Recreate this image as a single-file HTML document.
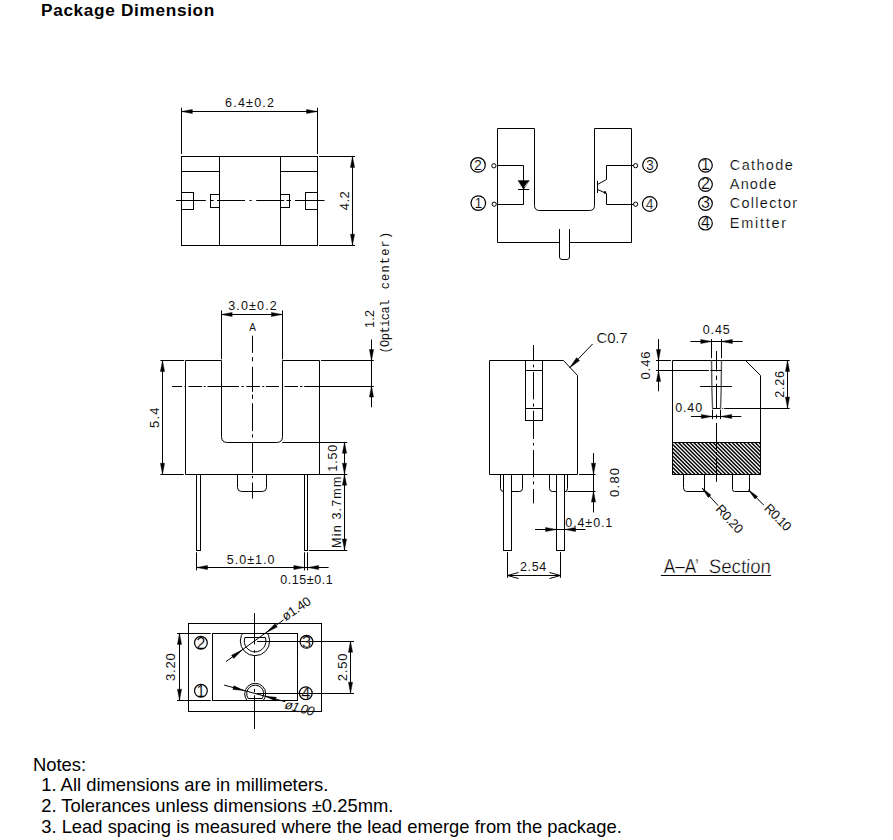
<!DOCTYPE html>
<html><head><meta charset="utf-8"><title>Package Dimension</title>
<style>
html,body{margin:0;padding:0;background:#fff;}
body{width:893px;height:840px;overflow:hidden;position:relative;font-family:"Liberation Sans",sans-serif;color:#000;}
#title{position:absolute;left:41px;top:-0.5px;font-size:17.2px;font-weight:bold;line-height:20px;white-space:nowrap;letter-spacing:0.68px;}
#notes{position:absolute;left:33px;top:754.5px;font-size:18.4px;line-height:20.9px;white-space:pre;}
#notes .i{padding-left:8.2px;}
svg{position:absolute;left:0;top:0;}
svg line,svg path,svg rect,svg circle{fill:none;stroke:#000;stroke-width:1;}
svg .ar{fill:#000;stroke:#000;stroke-width:0.4;}
svg text{font-family:"Liberation Sans",sans-serif;fill:#111;stroke:none;}
svg text.m{font-family:"Liberation Mono",monospace;fill:#111;}
svg text.thin{fill:#111;}
svg text.thin1{fill:#000;stroke:#fff;stroke-width:0.18px;}
svg text.thin2{fill:#000;stroke:#fff;stroke-width:0.4px;}
</style></head><body>
<div id="title">Package Dimension</div>
<svg width="893" height="840" viewBox="0 0 893 840">
<defs>
<clipPath id="ch"><rect x="672.5" y="442.5" width="88" height="32"/></clipPath>
<clipPath id="cu"><rect x="230" y="633.4" width="50" height="40"/></clipPath>
<clipPath id="cl"><rect x="230" y="670" width="50" height="30.2"/></clipPath>
</defs>
<g id="topview">
<rect x="181.5" y="156.5" width="136.0" height="89.0" />
<line x1="219.5" y1="156.4" x2="219.5" y2="245.2" />
<line x1="280.5" y1="156.4" x2="280.5" y2="245.2" />
<line x1="181.4" y1="171.5" x2="219.4" y2="171.5" />
<line x1="280.5" y1="171.5" x2="317.5" y2="171.5" />
<rect x="181.5" y="192.5" width="12.0" height="17.0" />
<rect x="210.5" y="194.5" width="9.0" height="13.0" />
<rect x="280.5" y="194.5" width="9.0" height="13.0" />
<rect x="305.5" y="192.5" width="12.0" height="17.0" />
<line x1="176" y1="200.5" x2="205.8" y2="200.5" />
<line x1="210.3" y1="200.5" x2="213.7" y2="200.5" />
<line x1="217" y1="200.5" x2="245" y2="200.5" />
<line x1="249.5" y1="200.5" x2="251.7" y2="200.5" />
<line x1="256.2" y1="200.5" x2="284.2" y2="200.5" />
<line x1="286.5" y1="200.5" x2="291" y2="200.5" />
<line x1="295" y1="200.5" x2="324.5" y2="200.5" />
<line x1="181.5" y1="107.8" x2="181.5" y2="154" />
<line x1="317.5" y1="107.8" x2="317.5" y2="154" />
<line x1="181.4" y1="111.5" x2="317.5" y2="111.5" />
<polygon points="181.40,111.50 192.40,109.40 192.40,113.60" class="ar" />
<polygon points="317.50,111.50 306.50,113.60 306.50,109.40" class="ar" />
<text x="249.5" y="107" font-size="12.5" text-anchor="middle" class="t" textLength="49" lengthAdjust="spacing" >6.4±0.2</text>
<line x1="319" y1="156.5" x2="355" y2="156.5" />
<line x1="319" y1="245.5" x2="355" y2="245.5" />
<line x1="352.5" y1="156.4" x2="352.5" y2="245.2" />
<polygon points="352.50,156.40 354.60,167.40 350.40,167.40" class="ar" />
<polygon points="352.50,245.20 350.40,234.20 354.60,234.20" class="ar" />
<text x="349" y="200.8" font-size="13" text-anchor="middle" class="t" textLength="19" lengthAdjust="spacing" transform="rotate(-90 349 200.8)" >4.2</text>
</g>
<g id="pin">
<path d="M559.5,242.5 H497.5 V128.5 H534.5 V205.5 Q534.5,210.5 539.5,210.5 H589.5 Q594.5,210.5 594.5,205.5 V128.5 H631.5 V242.5 H569.5" />
<path d="M559.5,229 V257 Q559.5,259.5 562,259.5 H567 Q569.5,259.5 569.5,257 V229" />
<circle cx="493.9" cy="165.8" r="2.1" />
<circle cx="494.2" cy="204.2" r="2.1" />
<path d="M497.5,165.5 H523.5 V204.5 H497.5" />
<polygon points="518,180.6 529.3,180.6 523.6,189.3" class="ar"/>
<line x1="524.6" y1="187" x2="527.6" y2="182.6" style="stroke:#fff;stroke-width:0.7"/>
<line x1="518" y1="189.5" x2="529.1" y2="189.5" />
<circle cx="478" cy="164.9" r="7.3" style="stroke-width:1.2" />
<text x="478" y="169.9" font-size="14" text-anchor="middle" class="t thin1" >2</text>
<circle cx="478.3" cy="203.1" r="7.3" style="stroke-width:1.2" />
<text x="478.3" y="208.1" font-size="14" text-anchor="middle" class="t thin1" >1</text>
<circle cx="635.6" cy="165.7" r="2.1" />
<circle cx="635.6" cy="204.2" r="2.1" />
<path d="M633.5,165.5 H606.5 V179.5 L597.5,184.5" />
<line x1="597.5" y1="180.9" x2="597.5" y2="193" />
<path d="M597.5,189.5 L606.5,193.5 V204.5 H633.5" />
<circle cx="604.9" cy="192.4" r="1.1" class="ar"/>
<circle cx="650" cy="165" r="7.3" style="stroke-width:1.2" />
<text x="650" y="170.0" font-size="14" text-anchor="middle" class="t thin1" >3</text>
<circle cx="649.7" cy="204" r="7.3" style="stroke-width:1.2" />
<text x="649.7" y="209.0" font-size="14" text-anchor="middle" class="t thin1" >4</text>
</g>
<g id="legend">
<circle cx="705.5" cy="165.3" r="6.8" style="stroke-width:1.2" />
<text x="705.5" y="169.9" font-size="16" text-anchor="middle" class="t thin1" >1</text>
<text x="729.8" y="170.2" font-size="14.5" text-anchor="start" class="t thin1" textLength="63" lengthAdjust="spacing" >Cathode</text>
<circle cx="705.5" cy="184.5" r="6.8" style="stroke-width:1.2" />
<text x="705.5" y="189.1" font-size="16" text-anchor="middle" class="t thin1" >2</text>
<text x="729.8" y="189.1" font-size="14.5" text-anchor="start" class="t thin1" textLength="46.6" lengthAdjust="spacing" >Anode</text>
<circle cx="705.5" cy="203.6" r="6.8" style="stroke-width:1.2" />
<text x="705.5" y="208.2" font-size="16" text-anchor="middle" class="t thin1" >3</text>
<text x="729.8" y="208.1" font-size="14.5" text-anchor="start" class="t thin1" textLength="67.3" lengthAdjust="spacing" >Collector</text>
<circle cx="705.5" cy="223.2" r="6.8" style="stroke-width:1.2" />
<text x="705.5" y="227.79999999999998" font-size="16" text-anchor="middle" class="t thin1" >4</text>
<text x="729.8" y="228.3" font-size="14.5" text-anchor="start" class="t thin1" textLength="56.4" lengthAdjust="spacing" >Emitter</text>
</g>
<g id="front">
<path d="M185.5,360.5 H221.5 V436.5 Q221.5,442.5 227.5,442.5 H276.5 Q282.5,442.5 282.5,436.5 V360.5 H319.5 V474.5 H185.5 Z" />
<line x1="282.4" y1="442.5" x2="347.3" y2="442.5" />
<rect x="196.5" y="474.5" width="4.0" height="76.0" />
<rect x="304.5" y="474.5" width="3.0" height="76.0" />
<path d="M237.5,474.5 V487.5 Q237.5,491.5 241.5,491.5 H262.5 Q266.5,491.5 266.5,487.5 V474.5" />
<line x1="252.5" y1="335.7" x2="252.5" y2="352.9" />
<line x1="252.5" y1="357.1" x2="252.5" y2="361.4" />
<line x1="252.5" y1="366.8" x2="252.5" y2="391.9" />
<line x1="252.5" y1="394.6" x2="252.5" y2="398.9" />
<line x1="252.5" y1="403.2" x2="252.5" y2="431.1" />
<line x1="252.5" y1="434.3" x2="252.5" y2="437.5" />
<line x1="252.5" y1="442.4" x2="252.5" y2="472.8" />
<line x1="252.5" y1="476" x2="252.5" y2="478.2" />
<line x1="252.5" y1="482.5" x2="252.5" y2="498.6" />
<line x1="172" y1="386.5" x2="182" y2="386.5" />
<line x1="184.5" y1="386.5" x2="186" y2="386.5" />
<line x1="188.5" y1="386.5" x2="202" y2="386.5" />
<line x1="203.7" y1="386.5" x2="205.7" y2="386.5" />
<line x1="207.5" y1="386.5" x2="239" y2="386.5" />
<line x1="241.4" y1="386.5" x2="243.8" y2="386.5" />
<line x1="246.3" y1="386.5" x2="260" y2="386.5" />
<line x1="262.3" y1="386.5" x2="264.3" y2="386.5" />
<line x1="266" y1="386.5" x2="279" y2="386.5" />
<line x1="284.5" y1="386.5" x2="298" y2="386.5" />
<line x1="300" y1="386.5" x2="302.5" y2="386.5" />
<line x1="304.2" y1="386.5" x2="319.5" y2="386.5" />
<line x1="319.6" y1="386.5" x2="373.8" y2="386.5" />
<line x1="160.4" y1="360.5" x2="184.2" y2="360.5" />
<line x1="160.4" y1="474.5" x2="183.7" y2="474.5" />
<line x1="162.5" y1="360.5" x2="162.5" y2="474.3" />
<polygon points="162.50,360.50 164.60,371.50 160.40,371.50" class="ar" />
<polygon points="162.50,474.30 160.40,463.30 164.60,463.30" class="ar" />
<text x="158.7" y="417.7" font-size="13" text-anchor="middle" class="t" textLength="20.5" lengthAdjust="spacing" transform="rotate(-90 158.7 417.7)" >5.4</text>
<line x1="221.5" y1="310.4" x2="221.5" y2="359.3" />
<line x1="282.5" y1="310.4" x2="282.5" y2="359.3" />
<line x1="221.2" y1="314.5" x2="282.4" y2="314.5" />
<polygon points="221.20,314.50 232.20,312.40 232.20,316.60" class="ar" />
<polygon points="282.40,314.50 271.40,316.60 271.40,312.40" class="ar" />
<text x="252.5" y="310.4" font-size="12.5" text-anchor="middle" class="t" textLength="48.6" lengthAdjust="spacing" >3.0±0.2</text>
<text x="252.7" y="330.8" font-size="10" text-anchor="middle" class="t thin" >A</text>
<line x1="321" y1="360.5" x2="373.8" y2="360.5" />
<line x1="371.5" y1="339.5" x2="371.5" y2="407.3" />
<polygon points="371.50,360.50 369.40,349.50 373.60,349.50" class="ar" />
<polygon points="371.50,386.10 373.60,397.10 369.40,397.10" class="ar" />
<text x="374" y="319.0" font-size="12.5" text-anchor="middle" class="t" textLength="18" lengthAdjust="spacing" transform="rotate(-90 374 319.0)" >1.2</text>
<text x="389.4" y="353.6" font-size="12" text-anchor="start" class="m" textLength="54" lengthAdjust="spacing" transform="rotate(-90 389.4 353.6)" >(Optical</text>
<text x="389.4" y="289.3" font-size="12" text-anchor="start" class="m" textLength="57.5" lengthAdjust="spacing" transform="rotate(-90 389.4 289.3)" >center)</text>
<line x1="319.6" y1="474.5" x2="347.3" y2="474.5" />
<line x1="308.9" y1="550.5" x2="347.3" y2="550.5" />
<line x1="344.5" y1="442.3" x2="344.5" y2="550" />
<polygon points="344.50,442.30 346.60,453.30 342.40,453.30" class="ar" />
<polygon points="344.50,474.30 342.40,463.30 346.60,463.30" class="ar" />
<polygon points="344.50,474.30 346.60,485.30 342.40,485.30" class="ar" />
<polygon points="344.50,550.00 342.40,539.00 346.60,539.00" class="ar" />
<text x="337.4" y="458.2" font-size="12.5" text-anchor="middle" class="t" textLength="27" lengthAdjust="spacing" transform="rotate(-90 337.4 458.2)" >1.50</text>
<text x="341.5" y="547.9" font-size="12.5" text-anchor="start" class="t" textLength="71.3" lengthAdjust="spacing" transform="rotate(-90 341.5 547.9)" >Min 3.7mm</text>
<line x1="196.5" y1="552.3" x2="196.5" y2="570.3" />
<line x1="304.5" y1="552.3" x2="304.5" y2="570.3" />
<line x1="307.5" y1="552.3" x2="307.5" y2="570.3" />
<line x1="196.5" y1="567.5" x2="328.6" y2="567.5" />
<polygon points="196.50,567.50 207.50,565.40 207.50,569.60" class="ar" />
<polygon points="304.80,567.50 293.80,569.60 293.80,565.40" class="ar" />
<polygon points="307.70,567.50 318.70,565.40 318.70,569.60" class="ar" />
<text x="226.8" y="563.9" font-size="12.5" text-anchor="start" class="t" textLength="47.7" lengthAdjust="spacing" >5.0±1.0</text>
<text x="280.3" y="584.3" font-size="12.5" text-anchor="start" class="t" textLength="52.4" lengthAdjust="spacing" >0.15±0.1</text>
</g>
<g id="side">
<path d="M489.5,360.5 H563.5 L577.5,375.5 V474.5 H489.5 Z" />
<rect x="525.5" y="360.5" width="17.0" height="60.0" />
<line x1="525.4" y1="370.5" x2="542.6" y2="370.5" />
<line x1="525.4" y1="408.5" x2="542.6" y2="408.5" />
<line x1="533.5" y1="345" x2="533.5" y2="360.2" />
<line x1="533.5" y1="364.6" x2="533.5" y2="367.3" />
<line x1="533.5" y1="372.1" x2="533.5" y2="399.4" />
<line x1="533.5" y1="403.6" x2="533.5" y2="406.7" />
<line x1="533.5" y1="410.7" x2="533.5" y2="439" />
<line x1="533.5" y1="443" x2="533.5" y2="445.5" />
<line x1="533.5" y1="450.1" x2="533.5" y2="477.4" />
<line x1="533.5" y1="481.4" x2="533.5" y2="484.4" />
<line x1="533.5" y1="489.1" x2="533.5" y2="503.4" />
<line x1="592.6" y1="344" x2="569.7" y2="367.8" />
<polygon points="569.70,367.80 576.51,357.70 579.53,360.61" class="ar" />
<text x="596.6" y="342.9" font-size="15" text-anchor="start" class="t thin1" textLength="31" lengthAdjust="spacing" >C0.7</text>
<path d="M500.5,474.5 V488.5 Q500.5,491.5 503.5,491.5 H519.5 Q522.5,491.5 522.5,488.5 V474.5" />
<path d="M549.5,474.5 V488.5 Q549.5,491.5 552.5,491.5 H566.5 L567.5,488.5 V474.5" />
<rect x="503.5" y="474.5" width="8.0" height="76.0" style="fill:#fff"/>
<rect x="556.5" y="474.5" width="8.0" height="76.0" style="fill:#fff"/>
<line x1="579.1" y1="474.5" x2="595.5" y2="474.5" />
<line x1="567.5" y1="491.5" x2="595.5" y2="491.5" />
<line x1="593.5" y1="453.1" x2="593.5" y2="512.4" />
<polygon points="593.50,474.30 591.40,463.30 595.60,463.30" class="ar" />
<polygon points="593.50,491.10 595.60,502.10 591.40,502.10" class="ar" />
<text x="619.2" y="482.4" font-size="13" text-anchor="middle" class="t" textLength="29" lengthAdjust="spacing" transform="rotate(-90 619.2 482.4)" >0.80</text>
<line x1="535" y1="529.5" x2="585.4" y2="529.5" />
<polygon points="556.50,529.50 545.50,531.60 545.50,527.40" class="ar" />
<polygon points="564.60,529.50 575.60,527.40 575.60,531.60" class="ar" />
<text x="565.3" y="526.8" font-size="12.5" text-anchor="start" class="t" textLength="47" lengthAdjust="spacing" >0.4±0.1</text>
<line x1="507.5" y1="552.1" x2="507.5" y2="577.8" />
<line x1="560.5" y1="552.1" x2="560.5" y2="577.8" />
<line x1="507.5" y1="575.5" x2="560.6" y2="575.5" />
<path d="M518.5,572.5 L507.5,575.5 L518.5,578.5" />
<path d="M549.5,572.5 L560.5,575.5 L549.5,578.5" />
<text x="520" y="571.1" font-size="12.5" text-anchor="start" class="t" textLength="26.2" lengthAdjust="spacing" >2.54</text>
</g>
<g id="section">
<g clip-path="url(#ch)" style="shape-rendering:geometricPrecision">
<line x1="632.50" y1="442.5" x2="664.50" y2="474.5" style="stroke-width:1.45"/>
<line x1="636.33" y1="442.5" x2="668.33" y2="474.5" style="stroke-width:1.45"/>
<line x1="640.16" y1="442.5" x2="672.16" y2="474.5" style="stroke-width:1.45"/>
<line x1="643.99" y1="442.5" x2="675.99" y2="474.5" style="stroke-width:1.45"/>
<line x1="647.82" y1="442.5" x2="679.82" y2="474.5" style="stroke-width:1.45"/>
<line x1="651.65" y1="442.5" x2="683.65" y2="474.5" style="stroke-width:1.45"/>
<line x1="655.48" y1="442.5" x2="687.48" y2="474.5" style="stroke-width:1.45"/>
<line x1="659.31" y1="442.5" x2="691.31" y2="474.5" style="stroke-width:1.45"/>
<line x1="663.14" y1="442.5" x2="695.14" y2="474.5" style="stroke-width:1.45"/>
<line x1="666.97" y1="442.5" x2="698.97" y2="474.5" style="stroke-width:1.45"/>
<line x1="670.80" y1="442.5" x2="702.80" y2="474.5" style="stroke-width:1.45"/>
<line x1="674.63" y1="442.5" x2="706.63" y2="474.5" style="stroke-width:1.45"/>
<line x1="678.46" y1="442.5" x2="710.46" y2="474.5" style="stroke-width:1.45"/>
<line x1="682.29" y1="442.5" x2="714.29" y2="474.5" style="stroke-width:1.45"/>
<line x1="686.12" y1="442.5" x2="718.12" y2="474.5" style="stroke-width:1.45"/>
<line x1="689.95" y1="442.5" x2="721.95" y2="474.5" style="stroke-width:1.45"/>
<line x1="693.78" y1="442.5" x2="725.78" y2="474.5" style="stroke-width:1.45"/>
<line x1="697.61" y1="442.5" x2="729.61" y2="474.5" style="stroke-width:1.45"/>
<line x1="701.44" y1="442.5" x2="733.44" y2="474.5" style="stroke-width:1.45"/>
<line x1="705.27" y1="442.5" x2="737.27" y2="474.5" style="stroke-width:1.45"/>
<line x1="709.10" y1="442.5" x2="741.10" y2="474.5" style="stroke-width:1.45"/>
<line x1="712.93" y1="442.5" x2="744.93" y2="474.5" style="stroke-width:1.45"/>
<line x1="716.76" y1="442.5" x2="748.76" y2="474.5" style="stroke-width:1.45"/>
<line x1="720.59" y1="442.5" x2="752.59" y2="474.5" style="stroke-width:1.45"/>
<line x1="724.42" y1="442.5" x2="756.42" y2="474.5" style="stroke-width:1.45"/>
<line x1="728.25" y1="442.5" x2="760.25" y2="474.5" style="stroke-width:1.45"/>
<line x1="732.08" y1="442.5" x2="764.08" y2="474.5" style="stroke-width:1.45"/>
<line x1="735.91" y1="442.5" x2="767.91" y2="474.5" style="stroke-width:1.45"/>
<line x1="739.74" y1="442.5" x2="771.74" y2="474.5" style="stroke-width:1.45"/>
<line x1="743.57" y1="442.5" x2="775.57" y2="474.5" style="stroke-width:1.45"/>
<line x1="747.40" y1="442.5" x2="779.40" y2="474.5" style="stroke-width:1.45"/>
<line x1="751.23" y1="442.5" x2="783.23" y2="474.5" style="stroke-width:1.45"/>
<line x1="755.06" y1="442.5" x2="787.06" y2="474.5" style="stroke-width:1.45"/>
<line x1="758.89" y1="442.5" x2="790.89" y2="474.5" style="stroke-width:1.45"/>
<line x1="762.72" y1="442.5" x2="794.72" y2="474.5" style="stroke-width:1.45"/>
<line x1="766.55" y1="442.5" x2="798.55" y2="474.5" style="stroke-width:1.45"/>
</g>
<rect x="672.5" y="442.5" width="88.0" height="32.0" />
<path d="M672.5,474.5 V360.5 H745.5 L760.5,375.5 V474.5" />
<line x1="745.3" y1="360.5" x2="789.7" y2="360.5" />
<path d="M711.5,360.5 L711.9,390 L712.6,408.5 M721.5,360.5 L721.2,390 L720.5,408.5" style="stroke:#5a5a5a;stroke-width:1.4"/>
<line x1="712.5" y1="408.5" x2="720.5" y2="408.5" />
<line x1="722.3" y1="408.5" x2="723.2" y2="408.5" />
<line x1="724.2" y1="408.5" x2="789.7" y2="408.5" />
<line x1="716.5" y1="351" x2="716.5" y2="371.4" />
<line x1="716.5" y1="375.7" x2="716.5" y2="380" />
<line x1="716.5" y1="383.7" x2="716.5" y2="409" />
<line x1="716.5" y1="414.5" x2="716.5" y2="418.5" />
<line x1="716.5" y1="423" x2="716.5" y2="449" />
<line x1="716.5" y1="452" x2="716.5" y2="455" />
<line x1="716.5" y1="458" x2="716.5" y2="481.8" />
<line x1="700.1" y1="386.5" x2="731.9" y2="386.5" />
<line x1="711.5" y1="339.1" x2="711.5" y2="358.2" />
<line x1="721.5" y1="339.1" x2="721.5" y2="358.2" />
<line x1="690.5" y1="341.5" x2="742.7" y2="341.5" />
<polygon points="711.70,341.50 700.70,343.60 700.70,339.40" class="ar" />
<polygon points="721.40,341.50 732.40,339.40 732.40,343.60" class="ar" />
<text x="702.8" y="333.5" font-size="12.5" text-anchor="start" class="t" textLength="26.9" lengthAdjust="spacing" >0.45</text>
<line x1="656" y1="360.5" x2="671" y2="360.5" />
<line x1="656" y1="370.5" x2="708.9" y2="370.5" />
<line x1="710.3" y1="370.5" x2="721.8" y2="370.5" />
<line x1="658.5" y1="339.1" x2="658.5" y2="391.3" />
<polygon points="658.50,360.40 656.40,349.40 660.60,349.40" class="ar" />
<polygon points="658.50,370.50 660.60,381.50 656.40,381.50" class="ar" />
<text x="649.8" y="365.5" font-size="13" text-anchor="middle" class="t" textLength="28" lengthAdjust="spacing" transform="rotate(-90 649.8 365.5)" >0.46</text>
<line x1="787.5" y1="360.4" x2="787.5" y2="408.1" />
<polygon points="787.50,360.40 789.60,371.40 785.40,371.40" class="ar" />
<polygon points="787.50,408.10 785.40,397.10 789.60,397.10" class="ar" />
<text x="783.8" y="384.4" font-size="12.5" text-anchor="middle" class="t" textLength="26.5" lengthAdjust="spacing" transform="rotate(-90 783.8 384.4)" >2.26</text>
<line x1="712.5" y1="409.7" x2="712.5" y2="419.1" />
<line x1="720.5" y1="409.7" x2="720.5" y2="419.1" />
<line x1="690.9" y1="416.5" x2="741.3" y2="416.5" />
<polygon points="712.30,416.50 701.30,418.60 701.30,414.40" class="ar" />
<polygon points="720.70,416.50 731.70,414.40 731.70,418.60" class="ar" />
<text x="675.2" y="412.4" font-size="12.5" text-anchor="start" class="t" textLength="26.9" lengthAdjust="spacing" >0.40</text>
<path d="M683.5,474.5 V487.5 Q683.5,491.5 686.5,491.5 H704.5 V474.5" />
<path d="M732.5,474.5 V489.5 Q732.5,491.5 734.5,491.5 H749.5 V474.5" />
<line x1="702.1" y1="488.1" x2="718.2" y2="505.6" />
<polygon points="702.10,488.10 710.87,494.98 708.22,497.41" class="ar" />
<line x1="748.5" y1="489.9" x2="763.9" y2="505.2" />
<polygon points="748.50,489.90 757.57,496.38 755.03,498.93" class="ar" />
<text x="714.9" y="509.6" font-size="13" text-anchor="start" class="t thin" textLength="33.5" lengthAdjust="spacing" transform="rotate(47.5 714.9 509.6)" >R0.20</text>
<text x="763.6" y="509" font-size="13" text-anchor="start" class="t thin" textLength="32" lengthAdjust="spacing" transform="rotate(45.5 763.6 509)" >R0.10</text>
<text x="663.8" y="573" font-size="19.5" class="t thin2" textLength="35" lengthAdjust="spacingAndGlyphs">A&#8211;A&#8217;</text>
<text x="0" y="0" font-size="19.5" class="t thin2" textLength="62" lengthAdjust="spacingAndGlyphs" transform="translate(708.6 573) skewX(-3)">Section</text>
<line x1="660.9" y1="575.5" x2="771.1" y2="575.5" />
</g>
<g id="bottom">
<rect x="188.5" y="623.5" width="133.0" height="88.0" />
<rect x="212.5" y="633.5" width="85.0" height="67.0" />
<line x1="254.5" y1="613" x2="254.5" y2="644.5" />
<line x1="254.5" y1="650.2" x2="254.5" y2="652.8" />
<line x1="254.5" y1="656.2" x2="254.5" y2="681.5" />
<line x1="254.5" y1="688.9" x2="254.5" y2="692.2" />
<line x1="254.5" y1="695.2" x2="254.5" y2="729" />
<g clip-path="url(#cu)"><circle cx="255" cy="641" r="14.7"/></g>
<path d="M244.9,637.5 H265.3 A10.8,10.8 0 1 1 244.9,637.5" />
<line x1="257" y1="641.5" x2="354" y2="641.5" />
<g clip-path="url(#cl)"><circle cx="255.2" cy="693.8" r="10.5"/></g>
<path d="M248.2,698.5 H262.2 A8.5,8.5 0 1 0 248.2,698.5" />
<line x1="256.4" y1="693.5" x2="354" y2="693.5" />
<circle cx="200.9" cy="642.8" r="6.4" style="stroke-width:1.2" />
<text x="200.9" y="648.5999999999999" font-size="16.5" text-anchor="middle" class="t thin1" >2</text>
<circle cx="200.9" cy="690.8" r="6.4" style="stroke-width:1.2" />
<text x="200.9" y="696.5999999999999" font-size="16.5" text-anchor="middle" class="t thin1" >1</text>
<circle cx="306.5" cy="641.8" r="6.4" style="stroke-width:1.2" />
<text x="306.5" y="647.5999999999999" font-size="16.5" text-anchor="middle" class="t thin1" >3</text>
<circle cx="305.8" cy="693.2" r="6.4" style="stroke-width:1.2" />
<text x="305.8" y="699.0" font-size="16.5" text-anchor="middle" class="t thin1" >4</text>
<line x1="177.1" y1="633.5" x2="210.7" y2="633.5" />
<line x1="177.1" y1="700.5" x2="210.7" y2="700.5" />
<line x1="179.5" y1="633.4" x2="179.5" y2="700.2" />
<polygon points="179.50,633.40 181.60,644.40 177.40,644.40" class="ar" />
<polygon points="179.50,700.20 177.40,689.20 181.60,689.20" class="ar" />
<text x="175.4" y="667.2" font-size="13" text-anchor="middle" class="t" textLength="27.8" lengthAdjust="spacing" transform="rotate(-90 175.4 667.2)" >3.20</text>
<line x1="350.5" y1="641.3" x2="350.5" y2="693.2" />
<polygon points="350.50,641.30 352.60,652.30 348.40,652.30" class="ar" />
<polygon points="350.50,693.20 348.40,682.20 352.60,682.20" class="ar" />
<text x="346.6" y="667.3" font-size="13" text-anchor="middle" class="t" textLength="27.8" lengthAdjust="spacing" transform="rotate(-90 346.6 667.3)" >2.50</text>
<line x1="226" y1="661.6" x2="283.6" y2="619.9" />
<polygon points="266.40,632.40 275.01,623.82 277.23,626.90" class="ar" />
<polygon points="242.40,649.80 233.79,658.38 231.57,655.30" class="ar" />
<text x="285.5" y="621.3" font-size="13" text-anchor="start" class="t thin" textLength="32" lengthAdjust="spacing" transform="rotate(-34 285.5 621.3)" >ø1.40</text>
<line x1="224.2" y1="685.1" x2="285.2" y2="701.7" />
<polygon points="244.00,690.50 232.89,689.44 233.88,685.78" class="ar" />
<polygon points="265.20,696.20 276.31,697.26 275.32,700.92" class="ar" />
<text x="284" y="708.3" font-size="13" text-anchor="start" class="t thin" textLength="30" lengthAdjust="spacing" transform="rotate(15 284 708.3)" font-style="italic">ø1.00</text>
</g>
</svg>
<div id="notes"><div>Notes:</div><div class="i">1. All dimensions are in millimeters.</div><div class="i">2. Tolerances unless dimensions ±0.25mm.</div><div class="i">3. Lead spacing is measured where the lead emerge from the package.</div></div>
</body></html>
